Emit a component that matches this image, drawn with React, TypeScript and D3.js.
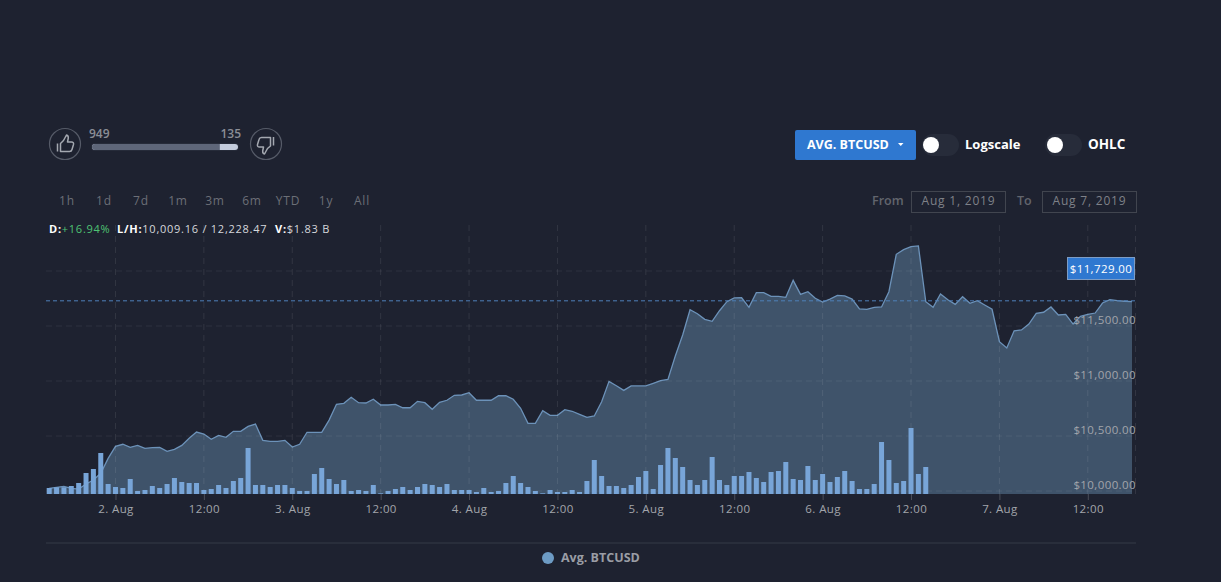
import React, { useEffect, useRef } from 'react';
import * as d3 from 'd3';

const W = 1221;
const H = 582;

// hourly average price, first point is 1 Aug 15:00 UTC
const prices = [
  10025, 10034, 10043, 10025, 10018, 10064, 10100, 10161, 10297, 10406, 10425, 10397,
  10415, 10388, 10394, 10397, 10361, 10379, 10415, 10479, 10536, 10518, 10470, 10506,
  10488, 10543, 10543, 10588, 10609, 10461, 10452, 10452, 10461, 10400, 10425, 10534,
  10534, 10534, 10645, 10788, 10797, 10852, 10803, 10800, 10834, 10782, 10782, 10788,
  10757, 10757, 10815, 10803, 10743, 10806, 10825, 10870, 10873, 10894, 10825, 10825,
  10825, 10866, 10866, 10834, 10752, 10615, 10615, 10730, 10688, 10688, 10739, 10725,
  10697, 10670, 10682, 10812, 10997, 10957, 10915, 10955, 10955, 10955, 10979, 11003,
  11015, 11227, 11418, 11648, 11612, 11561, 11543, 11639, 11721, 11755, 11757, 11670,
  11803, 11803, 11770, 11770, 11761, 11915, 11788, 11812, 11752, 11718, 11745, 11779,
  11773, 11745, 11655, 11652, 11670, 11673, 11812, 12152, 12194, 12221, 12228, 11721,
  11670, 11791, 11739, 11697, 11766, 11706, 11730, 11691, 11652, 11357, 11300, 11457,
  11464, 11518, 11615, 11625, 11673, 11600, 11606, 11518, 11588, 11606, 11618, 11709,
  11739, 11730, 11725, 11721,
];

// hourly volume, relative units
const volumes = [
  6, 6.7, 6.7, 8, 11, 21, 25, 41, 10, 7, 6, 15, 3, 4, 8, 6, 10, 16, 12, 11,
  11, 4, 5, 9, 6, 13, 16, 46, 9, 9, 7, 9, 9, 6, 3, 3, 20, 26, 15, 10,
  14, 3, 4, 3, 9, 0.7, 3, 5, 7, 4, 7, 10, 9, 7, 10, 4, 4, 4, 2, 6,
  2, 3, 11, 18, 11, 7, 3, 0.7, 4, 2, 2, 4, 2, 13, 34, 18, 8, 8, 6, 9,
  17, 23, 5, 29, 46, 36, 27, 14, 9, 14, 37, 14, 9, 18, 18, 22, 16, 12, 22, 23,
  32, 15, 14, 28, 14, 20, 12, 17, 23, 13, 5, 5, 10, 52, 34, 11, 13, 66, 20, 27,
];

const priceGrid = [10000, 10500, 11000, 11500, 12000];
const priceLabels = [10000, 10500, 11000, 11500];
const currentPrice = 11729;
const votesUp = 949;
const votesDown = 135;
const rangeButtons = ['1h', '1d', '7d', '1m', '3m', '6m', 'YTD', '1y', 'All'];

const start = new Date(Date.UTC(2019, 7, 1, 15));
const end = new Date(Date.UTC(2019, 7, 7, 18));
const hours = prices.map((_, i) => d3.utcHour.offset(start, i));

const FONT = '"Open Sans", sans-serif';

export default function App() {
  const chartRef = useRef<SVGGElement>(null);

  useEffect(() => {
    if (!chartRef.current) return;
    const svg = d3.select(chartRef.current);
    svg.selectAll('*').remove();

    const x = d3.scaleUtc().domain([start, end]).range([49.2, 1132]);
    const y = d3.scaleLinear().domain([9973, 12000]).range([494, 271]);
    const yVol = d3.scaleLinear().domain([0, 66]).range([494, 428]);
    const ticks = d3.utcHour.every(12)!.range(d3.utcHour.offset(start, 1), end);

    const area = d3.area<number>()
      .x((_, i) => x(hours[i]))
      .y0(y(9973))
      .y1(d => y(d));
    const line = d3.line<number>()
      .x((_, i) => x(hours[i]))
      .y(d => y(d));

    // Area first, grid goes on top of it
    svg.append('path').datum(prices).attr('d', area).attr('fill', '#3f536a');
    svg.append('path').datum(prices).attr('d', line)
      .attr('fill', 'none').attr('stroke', '#6c92b9').attr('stroke-width', 1.3);

    // Horizontal grid
    svg.append('g').selectAll('line').data(priceGrid).enter().append('line')
      .attr('x1', 46).attr('x2', 1136)
      .attr('y1', d => y(d)).attr('y2', d => y(d))
      .attr('stroke', 'rgba(255,255,255,0.07)')
      .attr('stroke-dasharray', '6,4');

    // Vertical grid
    svg.append('g').selectAll('line').data([...ticks.map(d => x(d)), 1135.5]).enter().append('line')
      .attr('x1', d => d).attr('x2', d => d)
      .attr('y1', 225).attr('y2', 494)
      .attr('stroke', 'rgba(255,255,255,0.09)')
      .attr('stroke-dasharray', '6,5');

    // Volume bars
    svg.append('g').selectAll('rect').data(volumes).enter().append('rect')
      .attr('x', (_, i) => x(hours[i]) - 2.5)
      .attr('y', d => yVol(d))
      .attr('width', 5)
      .attr('height', d => 494 - yVol(d))
      .attr('fill', '#78a5d8');

    // Current price line
    svg.append('line')
      .attr('x1', 46).attr('x2', 1135)
      .attr('y1', y(currentPrice)).attr('y2', y(currentPrice))
      .attr('stroke', '#4f80ba')
      .attr('stroke-dasharray', '4,3');

    // X axis
    const xAxis = svg.append('g')
      .attr('transform', 'translate(0,494)')
      .call(d3.axisBottom(x)
        .tickValues(ticks)
        .tickSize(6)
        .tickPadding(5)
        .tickFormat(d => {
          const date = d as Date;
          return date.getUTCHours() === 0 ? `${date.getUTCDate()}. Aug` : '12:00';
        }));
    xAxis.select('.domain').remove();
    xAxis.selectAll('line').attr('stroke', 'rgba(255,255,255,0.2)');
    xAxis.selectAll('text')
      .style('font-family', FONT)
      .style('font-size', '11.5px')
      .style('letter-spacing', '0.4px')
      .attr('fill', '#a2a5ab');

    // Y axis labels sit above their grid line
    const yAxis = svg.append('g')
      .attr('transform', 'translate(1136,0)')
      .call(d3.axisLeft(y)
        .tickValues(priceLabels)
        .tickSize(0)
        .tickPadding(0)
        .tickFormat(d => d3.format('$,.2f')(d as number)));
    yAxis.select('.domain').remove();
    yAxis.selectAll('text')
      .attr('dy', '-2.2px')
      .style('font-family', FONT)
      .style('font-size', '11.5px')
      .style('letter-spacing', '0.4px')
      .attr('fill', '#a2a5ab');

    // Current price tag
    const tag = svg.append('g');
    tag.append('rect')
      .attr('x', 1067.5).attr('y', 257.5).attr('width', 67).attr('height', 22)
      .attr('fill', '#2f78d0').attr('stroke', '#7d9cc4');
    tag.append('text')
      .attr('x', 1101).attr('y', 272.5).attr('text-anchor', 'middle')
      .attr('fill', '#fff')
      .style('font-family', FONT)
      .style('font-size', '11.5px')
      .style('letter-spacing', '0.4px')
      .text(d3.format('$,.2f')(currentPrice));
  }, []);

  const voteX = d3.scaleLinear().domain([0, votesUp + votesDown]).range([92, 238]);
  const label = { fontFamily: FONT, fontSize: 12 };

  return (
    <svg width={W} height={H} viewBox={`0 0 ${W} ${H}`} style={{ position: 'fixed', left: 0, top: 0, display: 'block' }}>
      <rect width={W} height={H} fill="#1e2230" />

      {/* Votes */}
      <circle cx={65} cy={144} r={15.5} fill="none" stroke="#565b68" strokeWidth={1.2} />
      <path
        d="M57.5 143.5 v8 M60.5 143.5 v8 h9 q2 0 2.5 -2 l1.5 -5 q0.5 -2.5 -2 -2.5 h-4 l0.8 -4 q0.2 -2.5 -1.8 -3 l-3 5.5 z"
        fill="none" stroke="#a4a8b0" strokeWidth={1.5} strokeLinejoin="round"
      />
      <circle cx={266} cy={144} r={15.5} fill="none" stroke="#565b68" strokeWidth={1.2} />
      <path
        d="M273.5 137 v8.5 M270.5 146 v-8.5 h-9 q-2 0 -2.5 2 l-1.5 5 q-0.5 2.5 2 2.5 h4 l-0.8 4 q-0.2 2.5 1.8 3 l3 -5.5 z"
        fill="none" stroke="#a4a8b0" strokeWidth={1.5} strokeLinejoin="round"
      />
      <text x={89} y={138} fill="#8b8e96" style={{ ...label, fontSize: 12, fontWeight: 600 }}>{votesUp}</text>
      <text x={241} y={138} textAnchor="end" fill="#8b8e96" style={{ ...label, fontSize: 12, fontWeight: 600 }}>{votesDown}</text>
      <rect x={91} y={143} width={148} height={8} rx={4} fill="#262b39" />
      <rect x={voteX(0)} y={144} width={voteX(votesUp + votesDown) - voteX(0)} height={6} rx={3} fill="#c3cbdc" />
      <path d={`M${voteX(votesUp)} 144 H95 a3 3 0 0 0 0 6 H${voteX(votesUp)} z`} fill="#5e6679" />

      {/* Range buttons */}
      {rangeButtons.map((b, i) => (
        <text
          key={b}
          x={[67, 104, 141, 178, 215, 252, 288, 326, 362][i]}
          y={205}
          textAnchor="middle"
          fill="#6c6f77"
          style={{ ...label, letterSpacing: 0.8 }}
        >
          {b}
        </text>
      ))}

      {/* Stats line */}
      <text y={233} style={{ ...label, fontSize: 11, letterSpacing: 0.75 }}>
        <tspan x={49} fill="#fff" fontWeight={700}>D:</tspan>
        <tspan fill="#4fc274">+16.94%</tspan>
        <tspan x={117} fill="#fff" fontWeight={700}>L/H:</tspan>
        <tspan fill="#d6d8dc">10,009.16 / 12,228.47</tspan>
        <tspan x={275} fill="#fff" fontWeight={700}>V:</tspan>
        <tspan fill="#d6d8dc">$1.83 B</tspan>
      </text>

      {/* Series button and toggles */}
      <rect x={795} y={130} width={121} height={30} rx={2} fill="#2f78d0" />
      <text x={807} y={149} fill="#fff" style={{ ...label, fontWeight: 700, fontSize: 12.5 }}>AVG. BTCUSD</text>
      <path d="M898 143 h5.5 l-2.75 3 z" fill="#fff" />
      <rect x={922} y={134} width={37} height={22} rx={11} fill="#272c3a" />
      <circle cx={931} cy={145} r={8} fill="#fff" />
      <text x={965} y={149} fill="#fff" style={{ ...label, fontWeight: 700, fontSize: 13 }}>Logscale</text>
      <rect x={1045} y={134} width={37} height={22} rx={11} fill="#272c3a" />
      <circle cx={1055} cy={145} r={8} fill="#fff" />
      <text x={1088} y={149} fill="#fff" style={{ ...label, fontWeight: 700, fontSize: 13.5 }}>OHLC</text>

      {/* Date range */}
      <text x={872} y={205} fill="#62656d" style={{ ...label, fontWeight: 600, fontSize: 12.5 }}>From</text>
      <rect x={911.5} y={191.5} width={94} height={21} fill="none" stroke="#41454f" />
      <text x={958.5} y={205} textAnchor="middle" fill="#7e8188" style={{ ...label, letterSpacing: 0.8 }}>Aug 1, 2019</text>
      <text x={1017} y={205} fill="#62656d" style={{ ...label, fontWeight: 600, fontSize: 12.5 }}>To</text>
      <rect x={1042.5} y={191.5} width={94} height={21} fill="none" stroke="#41454f" />
      <text x={1089.5} y={205} textAnchor="middle" fill="#7e8188" style={{ ...label, letterSpacing: 0.8 }}>Aug 7, 2019</text>

      <g ref={chartRef} />

      {/* Legend */}
      <line x1={46} x2={1136} y1={543} y2={543} stroke="#353a46" strokeWidth={1.2} />
      <circle cx={548} cy={558} r={6} fill="#6d9bc4" />
      <text x={561} y={562} fill="#9a9da5" style={{ ...label, fontWeight: 700, fontSize: 12.5 }}>Avg. BTCUSD</text>
    </svg>
  );
}
